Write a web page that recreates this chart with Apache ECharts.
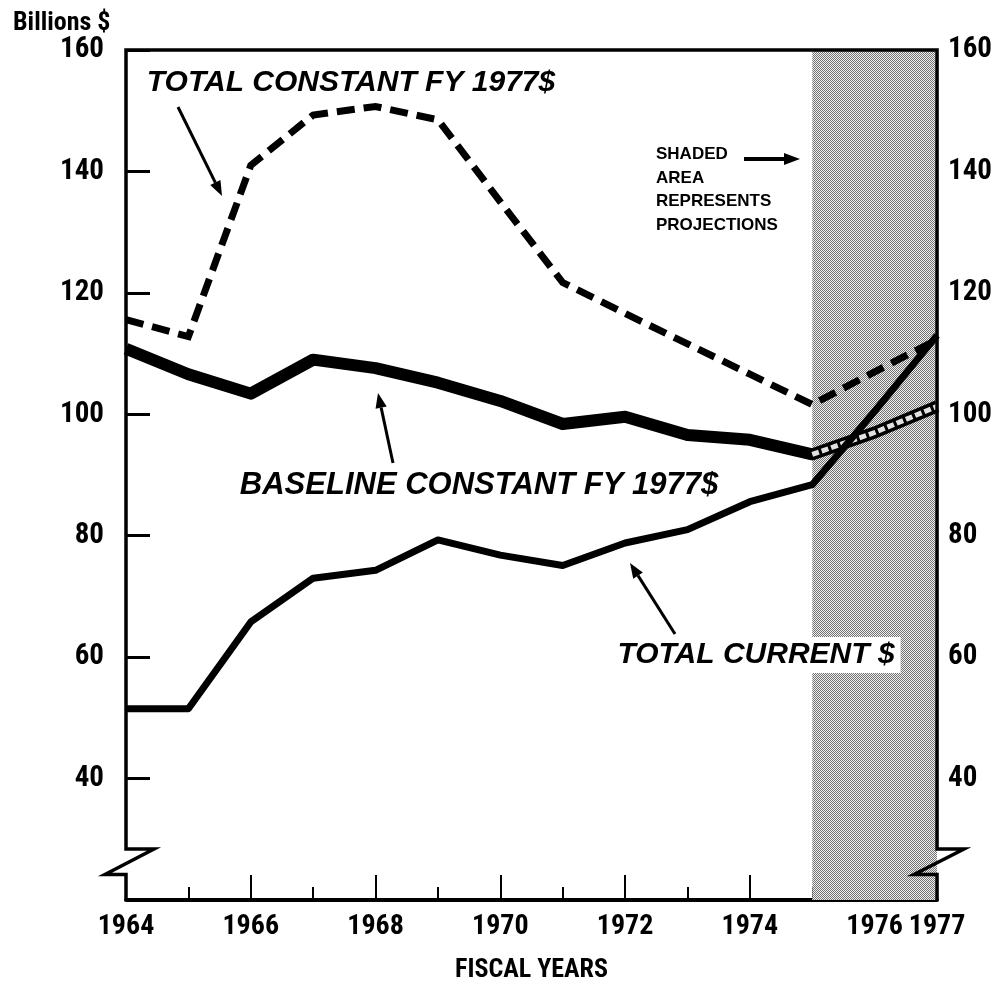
<!DOCTYPE html>
<html>
<head>
<meta charset="utf-8">
<title>Billions $ - Fiscal Years</title>
<script src="https://cdn.jsdelivr.net/npm/echarts@6/dist/echarts.min.js"></script>
<style>
  html, body { margin: 0; padding: 0; background: #fff; }
  #chart { width: 995px; height: 988px; }
</style>
</head>
<body>
<div id="chart"></div>
<script>
// values (billions of dollars)
var years = [1964, 1965, 1966, 1967, 1968, 1969, 1970, 1971, 1972, 1973, 1974, 1975, 1976, 1977];
var totalConstant = [115.6, 112.8, 141, 149.3, 150.7, 148.5, 135, 121.7, 116.6, 111.6, 106.6, 101.6, 107, 112.3];
var baselineConstant = [110.8, 106.6, 103.4, 109, 107.6, 105.2, 102.2, 98.4, 99.6, 96.6, 95.8, 93.4, 97, 101.3];
var totalCurrent = [51.5, 51.5, 65.8, 73, 74.3, 79.3, 76.8, 75.1, 78.8, 81, 85.6, 88.4, 100.5, 113];
var projectionStart = 1975;
var yTicks = [40, 60, 80, 100, 120, 140, 160];
var lastYear = 1977;

var numFont = '"Liberation Sans Narrow", "Roboto Condensed", Roboto, "DejaVu Sans Condensed", sans-serif';
var headFont = '"Liberation Sans", "DejaVu Sans", sans-serif';

function pairs(vals) {
  return years.map(function (y, i) { return [y, vals[i]]; });
}

// stipple for the projection area
var dots = document.createElement('canvas');
dots.width = 4; dots.height = 4;
var dc = dots.getContext('2d');
dc.fillStyle = '#f0f0f0';
dc.fillRect(0, 0, 4, 4);
dc.fillStyle = '#727272';
for (var i = 0; i < 4; i++) {
  for (var j = 0; j < 4; j++) {
    if ((i + j) % 2 === 0) dc.fillRect(i, j, 1, 1);
  }
}

var myChart = echarts.init(document.getElementById('chart'));

var yLabel = {
  fontFamily: numFont, fontWeight: 'bold', fontSize: 29, color: '#000',
  formatter: function (v) { return yTicks.indexOf(v) >= 0 ? String(v) : ''; }
};
var xLabelFont = { fontFamily: numFont, fontWeight: 'bold', fontSize: 28, color: '#000' };

var option = {
  backgroundColor: '#fff',
  animation: false,
  title: {
    text: 'Billions $', left: 8, top: 5,
    textStyle: { fontFamily: numFont, fontWeight: 'bold', fontSize: 26, color: '#000' }
  },
  grid: { left: 126, right: 49, top: 50, bottom: 61, containLabel: false },
  xAxis: [{
    type: 'value', min: 1964, max: lastYear, interval: 1, position: 'bottom',
    name: 'FISCAL YEARS', nameLocation: 'middle', nameGap: 57,
    nameTextStyle: { fontFamily: numFont, fontWeight: 'bold', fontSize: 26, color: '#000' },
    axisLine: { show: true, lineStyle: { color: '#000', width: 4 } },
    axisTick: { show: true, inside: true, length: 13, lineStyle: { color: '#000', width: 2 } },
    axisLabel: Object.assign({
      margin: 13, showMinLabel: true,
      formatter: function (v) { return (v % 2 === 0 && v !== lastYear) ? String(v) : ''; }
    }, xLabelFont),
    splitLine: { show: false }
  }, {
    // long ticks on even years
    type: 'value', min: 1964, max: lastYear, interval: 2, position: 'bottom',
    axisLine: { show: false },
    axisTick: { show: true, inside: true, length: 25, lineStyle: { color: '#000', width: 2 } },
    axisLabel: { show: false },
    splitLine: { show: false }
  }, {
    // end year label, kept apart so it does not knock out 1976
    type: 'value', min: 1964, max: lastYear, interval: lastYear - 1964, position: 'bottom',
    axisLine: { show: false },
    axisTick: { show: false },
    axisLabel: Object.assign({
      margin: 13, showMaxLabel: true,
      formatter: function (v) { return v === lastYear ? String(v) : ''; }
    }, xLabelFont),
    splitLine: { show: false }
  }],
  yAxis: [{
    type: 'value', min: 20, max: 160, interval: 20, position: 'left',
    axisLine: { show: false },
    axisTick: { show: true, inside: true, length: 24, lineStyle: { color: '#000', width: 3 } },
    axisLabel: Object.assign({ margin: 22 }, yLabel),
    splitLine: { show: false }
  }, {
    type: 'value', min: 20, max: 160, interval: 20, position: 'right',
    axisLine: { show: false },
    axisTick: { show: true, inside: true, length: 24, lineStyle: { color: '#000', width: 3 } },
    axisLabel: Object.assign({ margin: 11 }, yLabel),
    splitLine: { show: false }
  }],
  series: [{
    name: 'projection', type: 'line', data: [], z: 1, silent: true,
    markArea: {
      silent: true,
      itemStyle: { color: { image: dots, repeat: 'repeat' } },
      data: [[{ xAxis: projectionStart }, { xAxis: lastYear }]]
    }
  }, {
    name: 'TOTAL CONSTANT FY 1977$', type: 'line', z: 3, symbol: 'none',
    data: pairs(totalConstant),
    lineStyle: { color: '#000', width: 7, type: [18, 9], cap: 'butt', join: 'miter' }
  }, {
    name: 'BASELINE CONSTANT FY 1977$', type: 'line', z: 4, symbol: 'none',
    data: pairs(baselineConstant),
    lineStyle: { color: '#000', width: 12, join: 'round', cap: 'butt' }
  }, {
    name: 'baseline projection', type: 'line', z: 5, symbol: 'none', silent: true,
    data: years.map(function (y, i) { return y >= projectionStart ? [y, baselineConstant[i]] : null; }).filter(Boolean),
    lineStyle: { color: '#e2e2e2', width: 5, type: [7, 3], cap: 'butt' }
  }, {
    name: 'TOTAL CURRENT $', type: 'line', z: 6, symbol: 'none',
    data: pairs(totalCurrent),
    lineStyle: { color: '#000', width: 7, join: 'round', cap: 'butt' }
  }]
};

myChart.setOption(option);

// arrow: shaft plus a filled head
function arrow(x1, y1, x2, y2, w, head) {
  var a = Math.atan2(y2 - y1, x2 - x1);
  var hx = x2 - head * Math.cos(a), hy = y2 - head * Math.sin(a);
  var s = head * 0.38;
  return [{
    type: 'line', z: 20,
    shape: { x1: x1, y1: y1, x2: hx, y2: hy },
    style: { stroke: '#000', lineWidth: w }
  }, {
    type: 'polygon', z: 20,
    shape: { points: [[x2, y2], [hx + s * Math.sin(a), hy - s * Math.cos(a)], [hx - s * Math.sin(a), hy + s * Math.cos(a)]] },
    style: { fill: '#000' }
  }];
}

function label(text, x, y, size, extra) {
  var st = {
    text: text, x: x, y: y, align: 'center', verticalAlign: 'middle',
    fontFamily: headFont, fontWeight: 900, fontStyle: 'italic', fontSize: size, fill: '#000'
  };
  return { type: 'text', z: 25, style: Object.assign(st, extra || {}) };
}

// broken axes and frame, placed from the scale
var g = { gridIndex: 0 };
var pTL = myChart.convertToPixel(g, [1964, 160]);
var pBR = myChart.convertToPixel(g, [lastYear, 20]);
var breakTop = myChart.convertToPixel(g, [1964, 28.4])[1];
var breakBot = myChart.convertToPixel(g, [1964, 24.2])[1];
var L = pTL[0], R = pBR[0], T = pTL[1], B = pBR[1];

var frame = {
  type: 'polyline', z: 15,
  shape: { points: [
    [L, B], [L, breakBot], [L - 21, breakBot], [L + 28, breakTop], [L, breakTop], [L, T],
    [R, T], [R, breakTop], [R + 27, breakTop], [R - 23, breakBot], [R, breakBot], [R, B]
  ] },
  style: { stroke: '#000', lineWidth: 3.5, fill: null, lineJoin: 'miter' }
};

var graphics = [frame,
  label('TOTAL CONSTANT FY 1977$', 351, 83, 30),
  label('BASELINE CONSTANT FY 1977$', 479, 485, 31),
  label('TOTAL CURRENT $', 756, 655, 30, { backgroundColor: '#fff', padding: [3, 6] }),
  {
    type: 'text', z: 25,
    style: {
      text: 'SHADED\nAREA\nREPRESENTS\nPROJECTIONS', x: 656, y: 143,
      fontFamily: headFont, fontWeight: 'bold', fontSize: 17, lineHeight: 23.5, fill: '#000'
    }
  }
].concat(
  arrow(178, 107, 222, 196, 3, 15),
  arrow(393, 463, 378, 393, 3, 15),
  arrow(675, 634, 630, 563, 3, 15),
  arrow(744, 159, 800, 159, 4, 16)
);

myChart.setOption({ graphic: graphics });
</script>
</body>
</html>
